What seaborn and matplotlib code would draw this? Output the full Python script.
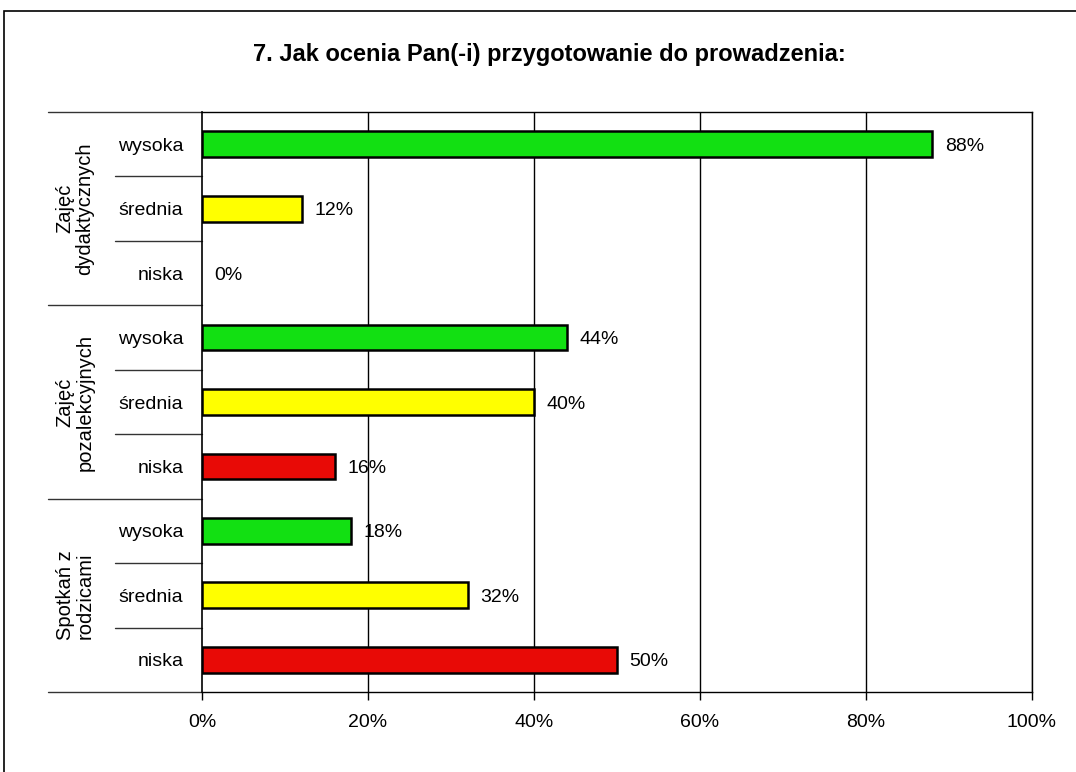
import matplotlib
matplotlib.use("Agg")
import matplotlib.pyplot as plt
import matplotlib.transforms as mtransforms
from matplotlib.patches import Rectangle
import seaborn as sns
import pandas as pd

title = "7. Jak ocenia Pan(-i) przygotowanie do prowadzenia:"
groups = ["Zajęć\ndydaktycznych", "Zajęć\npozalekcyjnych", "Spotkań z\nrodzicami"]
levels = ["wysoka", "średnia", "niska"]
values_dyd = [88, 12, 0]
values_poz = [44, 40, 16]
values_rodz = [18, 32, 50]
xticks = [0, 20, 40, 60, 80, 100]
xtick_labels = ["0%", "20%", "40%", "60%", "80%", "100%"]
colors = {"wysoka": "#12E012", "średnia": "#FFFF00", "niska": "#E80A06"}

rows, lev, vals, grp = [], [], [], []
for g, vs in zip(groups, [values_dyd, values_poz, values_rodz]):
    for l, v in zip(levels, vs):
        rows.append(g + "|" + l)
        lev.append(l)
        vals.append(v)
        grp.append(g)
df = pd.DataFrame({"row": rows, "level": lev, "value": vals, "group": grp})

sns.set_theme(style="white")
plt.rcParams["font.family"] = ["Liberation Sans", "DejaVu Sans"]

fig = plt.figure(figsize=(10.76, 7.72), dpi=100)
L, R, T, B = 202 / 1076, 1032 / 1076, 1 - 112 / 772, 1 - 692 / 772
ax = fig.add_axes([L, B, R - L, T - B])

sns.barplot(data=df, y="row", x="value", hue="level", palette=colors, dodge=False,
            order=rows, width=0.4, edgecolor="black", linewidth=1.8, saturation=1,
            legend=False, ax=ax)
for p in ax.patches:
    if p.get_width() == 0:
        p.set_visible(False)

ax.set_xlim(0, 100)
ax.set_ylim(len(rows) - 0.5, -0.5)
ax.set_xticks(xticks)
ax.set_xticklabels(xtick_labels, fontsize=14)
ax.set_yticks(range(len(rows)))
ax.set_yticklabels(lev, fontsize=14)
ax.set_xlabel("")
ax.set_ylabel("")
ax.tick_params(axis="x", length=5.5, width=1, color="black", pad=10, direction="out", bottom=True)
ax.tick_params(axis="y", length=0, pad=13.5)
for lbl in ax.get_xticklabels() + ax.get_yticklabels():
    lbl.set_color("black")

for x in xticks[1:]:
    ax.axvline(x, color="black", lw=1, zorder=0)
for s in ax.spines.values():
    s.set_visible(True)
    s.set_color("black")
    s.set_linewidth(1)
ax.spines["left"].set_linewidth(1.2)

# percent labels
for i, v in enumerate(vals):
    ax.annotate(f"{v}%", xy=(v, i), xytext=(9, 0), textcoords="offset points",
                ha="left", va="center_baseline", fontsize=14, color="black")

# separators on the category axis
trans = mtransforms.blended_transform_factory(ax.transAxes, ax.transData)
x_grp = (48 - 202) / 830
x_sub = (115 - 202) / 830
for k in range(len(groups) + 1):
    y = 3 * k - 0.5
    ax.plot([x_grp, 0], [y, y], transform=trans, color="#333333", lw=1, clip_on=False)
for k in range(len(groups)):
    for j in (1, 2):
        y = 3 * k + j - 0.5
        ax.plot([x_sub, 0], [y, y], transform=trans, color="#333333", lw=1, clip_on=False)
x_lab = (75 - 202) / 830
for k, g in enumerate(groups):
    ax.text(x_lab, 3 * k + 1, g, transform=trans, rotation=90, ha="center", va="center",
            fontsize=14.5, color="black", linespacing=1.05, multialignment="center")

fig.suptitle(title, x=549 / 1076, y=1 - 55 / 772, va="center", fontsize=17,
             fontweight="bold", color="black")

# outer chart border
fig.patches.append(Rectangle((4 / 1076, -0.05), 1.1, 1 - 11 / 772 + 0.05, transform=fig.transFigure,
                             fill=False, edgecolor="black", lw=1.2))

fig.savefig("out.png", dpi=100, facecolor="white")
